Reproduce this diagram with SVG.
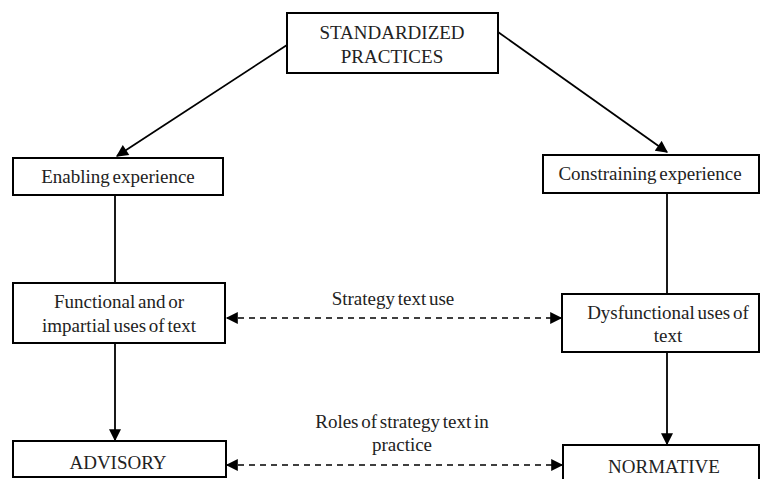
<svg xmlns="http://www.w3.org/2000/svg" width="761" height="479" viewBox="0 0 761 479">
  <style>
    .box { fill: #fff; stroke: #000; stroke-width: 2; }
    .lbl { font-family: "Liberation Serif", "DejaVu Serif", serif; font-size: 19px; fill: #222; text-anchor: middle; word-spacing: -2px; }
    .line { stroke: #000; stroke-width: 1.8; fill: none; }
    .dash { stroke: #000; stroke-width: 1.6; fill: none; stroke-dasharray: 6 5; }
  </style>
  <defs>
    <marker id="head" viewBox="0 0 10 10" refX="9" refY="5" markerWidth="14" markerHeight="12" markerUnits="userSpaceOnUse" orient="auto-start-reverse">
      <path d="M0,0 L10,5 L0,10 Z" fill="#000"/>
    </marker>
  </defs>

  <g id="connectors">
    <line class="line" x1="287" y1="45" x2="117" y2="156" marker-end="url(#head)"/>
    <line class="line" x1="498" y1="32" x2="667" y2="152" marker-end="url(#head)"/>
    <line class="line" x1="115" y1="195" x2="115" y2="282"/>
    <line class="line" x1="667" y1="193" x2="667" y2="294"/>
    <line class="line" x1="115" y1="343" x2="115" y2="440" marker-end="url(#head)"/>
    <line class="line" x1="667" y1="352" x2="667" y2="444" marker-end="url(#head)"/>
    <line class="dash" x1="227" y1="318" x2="561" y2="318" marker-start="url(#head)" marker-end="url(#head)"/>
    <line class="dash" x1="227" y1="465" x2="562" y2="465" marker-start="url(#head)" marker-end="url(#head)"/>
    <text class="lbl" x="393" y="305">Strategy text use</text>
    <text class="lbl" x="402" y="428">Roles of strategy text in</text>
    <text class="lbl" x="402" y="451">practice</text>
  </g>

  <g id="standardized">
    <rect class="box" x="287" y="13" width="211" height="60"/>
    <text class="lbl" x="392" y="39">STANDARDIZED</text>
    <text class="lbl" x="392" y="63">PRACTICES</text>
  </g>

  <g id="enabling">
    <rect class="box" x="13" y="158" width="210" height="37"/>
    <text class="lbl" x="118" y="183">Enabling experience</text>
  </g>

  <g id="constraining">
    <rect class="box" x="543" y="155" width="216" height="38"/>
    <text class="lbl" x="650" y="180">Constraining experience</text>
  </g>

  <g id="functional">
    <rect class="box" x="13" y="283" width="212" height="60"/>
    <text class="lbl" x="119" y="308">Functional and or</text>
    <text class="lbl" x="119" y="332">impartial uses of text</text>
  </g>

  <g id="dysfunctional">
    <rect class="box" x="562" y="294" width="197" height="58"/>
    <text class="lbl" x="668" y="319">Dysfunctional uses of</text>
    <text class="lbl" x="668" y="342">text</text>
  </g>

  <g id="advisory">
    <rect class="box" x="13" y="441" width="213" height="36"/>
    <text class="lbl" x="118" y="469">ADVISORY</text>
  </g>

  <g id="normative">
    <rect class="box" x="563" y="445" width="196" height="40"/>
    <text class="lbl" x="664" y="473">NORMATIVE</text>
  </g>
</svg>
